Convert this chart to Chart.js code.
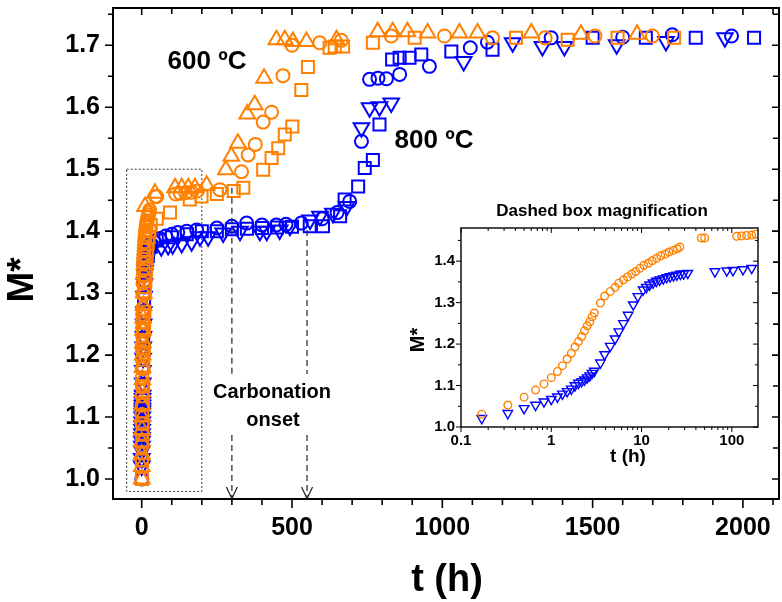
<!DOCTYPE html>
<html>
<head>
<meta charset="utf-8">
<script src="https://cdn.jsdelivr.net/npm/chart.js@4.4.1/dist/chart.umd.min.js"></script>
<style>
  html, body { margin: 0; padding: 0; background: #fff; }
  #wrap { position: relative; width: 782px; height: 602px; }
  #main { position: absolute; left: 0; top: 0; }
  #inset { position: absolute; left: 400px; top: 190px; }
</style>
</head>
<body>
<div id="wrap">
  <canvas id="main" width="782" height="602"></canvas>
  <canvas id="inset" width="382" height="280"></canvas>
</div>
<script>
// ---- data (t in hours, M* dimensionless) ----

// 600 ºC, triangles
const tri600T = [0.2, 0.4, 0.6, 0.8, 1.0, 1.3, 1.6, 2.0, 2.4, 2.8, 3.3, 3.8, 4.4, 5.0, 6.0,
  7.0, 11, 44, 111, 133, 155, 177, 216, 280, 298, 320, 351, 376, 407, 448,
  476, 503, 548, 648, 785, 835, 884, 951, 1057, 1117, 1296, 1461, 1648];
const tri600M = [1.00, 1.02, 1.04, 1.06, 1.08, 1.10, 1.12, 1.14, 1.16, 1.18, 1.20, 1.22, 1.24, 1.26, 1.28,
  1.30, 1.44, 1.461, 1.470, 1.470, 1.470, 1.470, 1.474, 1.499, 1.521, 1.542, 1.589, 1.604, 1.647, 1.709,
  1.709, 1.706, 1.706, 1.709, 1.722, 1.722, 1.722, 1.720, 1.720, 1.720, 1.720, 1.718, 1.718];

// 600 ºC, circles (first part also shown in the inset)
const circ600T = [0.17, 0.33, 0.5, 0.67, 0.83, 1.0, 1.17, 1.33, 1.5, 1.67, 1.83, 2.0, 2.17, 2.33, 2.5,
  2.67, 2.83, 3.0, 3.5, 3.9, 4.5, 5.1, 5.6, 6.3, 7.0, 7.8, 8.6, 9.6, 10.6, 11.9,
  13.1, 14.7, 16.3, 18.2, 20.1, 22.4, 24.8, 26.6, 46, 50, 113, 128, 146, 166, 185];
const circ600M = [1.031, 1.053, 1.072, 1.089, 1.104, 1.119, 1.134, 1.148, 1.164, 1.178, 1.193, 1.206, 1.218, 1.232, 1.244,
  1.254, 1.266, 1.275, 1.299, 1.316, 1.327, 1.337, 1.347, 1.355, 1.362, 1.369, 1.375, 1.383, 1.390, 1.395,
  1.401, 1.407, 1.413, 1.417, 1.422, 1.426, 1.430, 1.434, 1.456, 1.456, 1.460, 1.461, 1.462, 1.463, 1.465];
const circ600LateT = [260, 332, 354, 378, 404, 432, 470, 500, 592, 664, 830, 1007, 1167, 1342, 1508, 1699];
const circ600LateM = [1.467, 1.496, 1.523, 1.540, 1.576, 1.592, 1.651, 1.700, 1.704, 1.708, 1.715, 1.715, 1.712, 1.712, 1.715, 1.715];

// 600 ºC, squares
const sq600T = [0.5, 1, 2, 3, 4, 5, 6, 7, 8, 9, 10, 11, 12, 13, 14,
  15, 16, 18, 20, 23, 26, 30, 50, 94, 160, 199, 250, 306, 338, 404,
  432, 454, 476, 501, 531, 553, 625, 642, 670, 769, 908, 1245, 1417, 1583, 1771];
const sq600M = [1.00, 1.03, 1.06, 1.09, 1.12, 1.15, 1.18, 1.21, 1.24, 1.27, 1.30, 1.31, 1.32, 1.33, 1.34,
  1.35, 1.36, 1.37, 1.38, 1.39, 1.40, 1.41, 1.42, 1.430, 1.451, 1.456, 1.460, 1.465, 1.470, 1.499,
  1.518, 1.534, 1.556, 1.569, 1.628, 1.665, 1.696, 1.698, 1.698, 1.704, 1.712, 1.712, 1.709, 1.712, 1.712];

// 800 ºC, down triangles (first part also shown in the inset)
const tri800T = [0.17, 0.33, 0.5, 0.67, 0.83, 1.0, 1.17, 1.33, 1.5, 1.67, 1.83, 2.0, 2.17, 2.33, 2.5,
  2.67, 2.83, 3.0, 3.5, 3.9, 4.5, 5.1, 5.6, 6.3, 7.1, 8.1, 9.1, 10.4, 11.3, 12.3,
  13.4, 14.6, 15.9, 17.4, 19.0, 20.7, 22.6, 24.6, 26.9, 29.3, 32.5, 65, 88, 103, 133, 166];
const tri800M = [1.021, 1.033, 1.045, 1.053, 1.061, 1.067, 1.073, 1.080, 1.086, 1.092, 1.100, 1.106, 1.110, 1.114, 1.119,
  1.124, 1.130, 1.135, 1.155, 1.175, 1.195, 1.213, 1.230, 1.250, 1.270, 1.295, 1.315, 1.331, 1.337, 1.343,
  1.348, 1.352, 1.355, 1.358, 1.361, 1.363, 1.365, 1.367, 1.369, 1.370, 1.371, 1.375, 1.377, 1.378, 1.380, 1.383];
const tri800LateT = [194, 221, 271, 327, 393, 416, 459, 493, 560, 593, 636, 682, 731, 758, 791,
  830, 1071, 1234, 1333, 1406, 1580, 1744, 1940];
const tri800LateM = [1.391, 1.391, 1.397, 1.400, 1.400, 1.400, 1.402, 1.408, 1.418, 1.424, 1.429, 1.440, 1.567, 1.599, 1.601,
  1.607, 1.674, 1.704, 1.698, 1.698, 1.701, 1.706, 1.712];

// 800 ºC, circles
const circ800T = [0.3, 0.7, 1, 1.5, 2, 2.5, 3, 4, 5, 6, 7, 8, 10, 12, 15, 18, 22, 26, 30, 40,
  60, 80, 100, 120, 150, 183, 250, 300, 349, 400, 448, 480, 531, 600, 650, 692, 731, 758, 786, 814,
  858, 957, 1093, 1150, 1362, 1600, 1765, 1962];
const circ800M = [1.00, 1.03, 1.06, 1.09, 1.12, 1.15, 1.18, 1.21, 1.24, 1.27, 1.30, 1.32, 1.34, 1.355, 1.365, 1.37, 1.375, 1.378, 1.38, 1.383,
  1.388, 1.392, 1.395, 1.398, 1.400, 1.402, 1.405, 1.408, 1.413, 1.410, 1.410, 1.411, 1.413, 1.420, 1.430, 1.448, 1.545, 1.645, 1.647, 1.646,
  1.653, 1.666, 1.696, 1.705, 1.712, 1.713, 1.717, 1.715];

// 800 ºC, squares
const sq800T = [1, 2, 3, 5, 8, 12, 20, 30, 50, 100, 150, 200, 250, 300, 350, 400, 450, 500, 559, 603,
  660, 675, 720, 742, 769, 791, 833, 858, 891, 930, 1030, 1167, 1500, 1677, 1843, 2037];
const sq800M = [1.00, 1.08, 1.15, 1.22, 1.29, 1.33, 1.36, 1.375, 1.385, 1.39, 1.395, 1.40, 1.40, 1.403, 1.404, 1.405, 1.406, 1.407, 1.408, 1.408,
  1.424, 1.451, 1.472, 1.502, 1.515, 1.572, 1.677, 1.680, 1.680, 1.685, 1.690, 1.693, 1.712, 1.712, 1.712, 1.712];

// ticks
const xMajor = [0, 500, 1000, 1500, 2000];
const xMinor = [100, 200, 300, 400, 600, 700, 800, 900, 1100, 1200, 1300, 1400, 1600, 1700, 1800, 1900, 2100];
const yMajor = [1.0, 1.1, 1.2, 1.3, 1.4, 1.5, 1.6, 1.7];
const yMinor = [1.05, 1.15, 1.25, 1.35, 1.45, 1.55, 1.65, 1.75];
const insetXMajor = [0.1, 1, 10, 100];
const insetXMinor = [0.2, 0.3, 0.4, 0.5, 0.6, 0.7, 0.8, 0.9, 2, 3, 4, 5, 6, 7, 8, 9, 20, 30, 40, 50, 60, 70, 80, 90];
const insetYMajor = [1.0, 1.1, 1.2, 1.3, 1.4];
const insetYMinor = [1.05, 1.15, 1.25, 1.35, 1.45];

// annotations
const boxT = [-50, 200];
const boxM = [0.98, 1.5];
const onsetT = [300, 550];
const onsetTopM = [1.47, 1.402];

const FONT = '"Liberation Sans", Arial, Helvetica, sans-serif';
const ORANGE = 'rgb(255,128,0)';
const BLUE = 'rgb(0,0,255)';

function pts(ts, ms) {
  return ts.map((t, i) => ({ x: t, y: ms[i] }));
}

function series(label, data, color, style, rot, r, bw) {
  return {
    label: label,
    data: data,
    showLine: false,
    pointStyle: style,
    pointRotation: rot,
    pointRadius: r,
    pointBorderWidth: bw,
    pointBorderColor: color,
    pointBackgroundColor: 'rgba(0,0,0,0)'
  };
}

function text(ctx, str, x, y, size, rot) {
  ctx.save();
  ctx.font = 'bold ' + size + 'px ' + FONT;
  ctx.fillStyle = '#000';
  ctx.textAlign = 'center';
  ctx.textBaseline = 'middle';
  ctx.translate(x, y);
  if (rot) ctx.rotate(rot);
  ctx.fillText(str, 0, 0);
  ctx.restore();
}

// keep the plot box where the reference has it
function fixX(h) {
  return s => { s.height = h; s.paddingLeft = 0; s.paddingRight = 0; };
}
function fixY(w) {
  return s => { s.width = w; s.paddingTop = 0; s.paddingBottom = 0; };
}

// frame with outward ticks bottom/left and inward mirrored ticks top/right
function frameTicks(o) {
  return {
    id: 'frameTicks',
    afterDatasetsDraw(chart) {
      const { ctx, chartArea: a } = chart;
      const xs = chart.scales.x, ys = chart.scales.y;
      ctx.save();
      ctx.strokeStyle = '#000';
      ctx.lineWidth = o.tickWidth;
      ctx.beginPath();
      const xt = (vals, out, inn) => vals.forEach(v => {
        const p = xs.getPixelForValue(v);
        ctx.moveTo(p, a.bottom); ctx.lineTo(p, a.bottom + out);
        ctx.moveTo(p, a.top); ctx.lineTo(p, a.top + inn);
      });
      const yt = (vals, out, inn) => vals.forEach(v => {
        const p = ys.getPixelForValue(v);
        ctx.moveTo(a.left, p); ctx.lineTo(a.left - out, p);
        ctx.moveTo(a.right, p); ctx.lineTo(a.right - inn, p);
      });
      xt(o.xMajor, o.xOutMajor, o.inMajor);
      xt(o.xMinor, o.xOutMinor, o.inMinor);
      yt(o.yMajor, o.yOutMajor, o.inMajor);
      yt(o.yMinor, o.yOutMinor, o.inMinor);
      ctx.stroke();
      ctx.lineWidth = o.frameWidth;
      ctx.strokeRect(a.left, a.top, a.right - a.left, a.bottom - a.top);
      ctx.restore();
    }
  };
}

const mainNotes = {
  id: 'mainNotes',
  beforeDatasetsDraw(chart) {
    const ctx = chart.ctx;
    const xs = chart.scales.x, ys = chart.scales.y;
    const l = xs.getPixelForValue(boxT[0]), r = xs.getPixelForValue(boxT[1]);
    const t = ys.getPixelForValue(boxM[1]), b = ys.getPixelForValue(boxM[0]);
    ctx.save();
    ctx.setLineDash([2, 2]);
    ctx.strokeStyle = '#333';
    ctx.lineWidth = 1;
    ctx.strokeRect(l, t, r - l, b - t);
    ctx.restore();
  },
  afterDraw(chart) {
    const ctx = chart.ctx;
    const xs = chart.scales.x, ys = chart.scales.y;
    const bottom = chart.chartArea.bottom;
    ctx.save();
    ctx.strokeStyle = '#222';
    ctx.lineWidth = 1.2;
    onsetT.forEach((tv, i) => {
      const x = xs.getPixelForValue(tv);
      const top = ys.getPixelForValue(onsetTopM[i]);
      ctx.setLineDash([6, 4]);
      ctx.beginPath();
      ctx.moveTo(x, top); ctx.lineTo(x, 374);
      ctx.moveTo(x, 435); ctx.lineTo(x, bottom - 1);
      ctx.stroke();
      ctx.setLineDash([]);
      ctx.beginPath();
      ctx.moveTo(x - 5.5, bottom - 12); ctx.lineTo(x, bottom - 0.5); ctx.lineTo(x + 5.5, bottom - 12);
      ctx.stroke();
    });
    ctx.restore();

    text(ctx, 'Carbonation', 272, 392, 20);
    text(ctx, 'onset', 273, 420, 20);
    text(ctx, '600 ºC', 207, 62, 26);
    text(ctx, '800 ºC', 434, 141, 26);
    text(ctx, 'M*', 23, 280, 37, -Math.PI / 2);
    text(ctx, 't (h)', 447, 581, 38);
  }
};

const insetNotes = {
  id: 'insetNotes',
  afterDraw(chart) {
    const ctx = chart.ctx;
    text(ctx, 'Dashed box magnification', 202, 21, 17);
    text(ctx, 't (h)', 228, 267, 19);
    text(ctx, 'M*', 18, 150, 20, -Math.PI / 2);
  }
};

const tickFont = size => ({ family: FONT, size: size, weight: 'bold' });

new Chart(document.getElementById('main'), {
  type: 'scatter',
  data: {
    datasets: [
      series('600 ºC triangles', pts(tri600T, tri600M), ORANGE, 'triangle', 0, 9, 2),
      series('600 ºC circles', pts(circ600T, circ600M).concat(pts(circ600LateT, circ600LateM)), ORANGE, 'circle', 0, 6.5, 2),
      series('600 ºC squares', pts(sq600T, sq600M), ORANGE, 'rect', 0, 8.5, 2),
      series('800 ºC triangles', pts(tri800T, tri800M).concat(pts(tri800LateT, tri800LateM)), BLUE, 'triangle', 180, 9, 2),
      series('800 ºC circles', pts(circ800T, circ800M), BLUE, 'circle', 0, 6.5, 2),
      series('800 ºC squares', pts(sq800T, sq800M), BLUE, 'rect', 0, 8.5, 2)
    ]
  },
  options: {
    responsive: false,
    animation: false,
    events: [],
    layout: { autoPadding: false, padding: { left: 0, right: 3, top: 8, bottom: 0 } },
    plugins: { legend: { display: false }, tooltip: { enabled: false } },
    scales: {
      x: {
        type: 'linear', bounds: 'data', min: -95.5, max: 2120,
        afterBuildTicks: s => { s.ticks = xMajor.map(v => ({ value: v })); },
        afterFit: fixX(103),
        grid: { display: false, drawTicks: false },
        border: { display: false },
        ticks: { padding: 14, color: '#000', font: tickFont(25), maxRotation: 0, autoSkip: false, callback: v => String(v) }
      },
      y: {
        type: 'linear', bounds: 'data', min: 0.9677, max: 1.7602,
        afterBuildTicks: s => { s.ticks = yMajor.map(v => ({ value: v })); },
        afterFit: fixY(113),
        grid: { display: false, drawTicks: false },
        border: { display: false },
        ticks: { padding: 13, color: '#000', font: tickFont(25), autoSkip: false, callback: v => v.toFixed(1) }
      }
    }
  },
  plugins: [
    frameTicks({ xMajor, xMinor, yMajor, yMinor, xOutMajor: 9, xOutMinor: 6, yOutMajor: 8, yOutMinor: 5,
      inMajor: 7, inMinor: 6, tickWidth: 1.6, frameWidth: 2 }),
    mainNotes
  ]
});

new Chart(document.getElementById('inset'), {
  type: 'scatter',
  data: {
    datasets: [
      series('600 ºC', pts(circ600T, circ600M), ORANGE, 'circle', 0, 3.8, 1.4),
      series('800 ºC', pts(tri800T, tri800M), BLUE, 'triangle', 180, 5.5, 1.4)
    ]
  },
  options: {
    responsive: false,
    animation: false,
    events: [],
    layout: { autoPadding: false, padding: { left: 0, right: 24, top: 38, bottom: 0 } },
    plugins: { legend: { display: false }, tooltip: { enabled: false } },
    scales: {
      x: {
        type: 'logarithmic', bounds: 'data', min: 0.1, max: 195,
        afterBuildTicks: s => { s.ticks = insetXMajor.map(v => ({ value: v })); },
        afterFit: fixX(43),
        grid: { display: false, drawTicks: false },
        border: { display: false },
        ticks: { padding: 5, color: '#000', font: tickFont(15), maxRotation: 0, autoSkip: false, callback: v => String(v) }
      },
      y: {
        type: 'linear', bounds: 'data', min: 1.0, max: 1.48,
        afterBuildTicks: s => { s.ticks = insetYMajor.map(v => ({ value: v })); },
        afterFit: fixY(61),
        grid: { display: false, drawTicks: false },
        border: { display: false },
        ticks: { padding: 6, color: '#000', font: tickFont(15), autoSkip: false, callback: v => v.toFixed(1) }
      }
    }
  },
  plugins: [
    frameTicks({ xMajor: insetXMajor, xMinor: insetXMinor, yMajor: insetYMajor, yMinor: insetYMinor,
      xOutMajor: 5, xOutMinor: 3, yOutMajor: 5, yOutMinor: 3, inMajor: 5, inMinor: 3, tickWidth: 1, frameWidth: 1.4 }),
    insetNotes
  ]
});
</script>
</body>
</html>
